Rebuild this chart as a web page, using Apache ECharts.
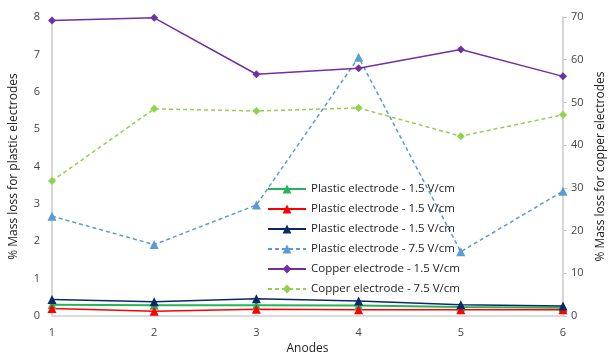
<!DOCTYPE html>
<html><head><meta charset="utf-8">
<script src="https://cdn.jsdelivr.net/npm/echarts@6/dist/echarts.min.js"></script>
<style>html,body{margin:0;padding:0;background:#fff}#c{width:609px;height:356px}</style>
</head><body><div id="c"></div>
<script>
const categories = ['1','2','3','4','5','6'];
const plasticGreen15 = [0.30, 0.29, 0.29, 0.28, 0.24, 0.22];
const plasticRed15 = [0.20, 0.13, 0.18, 0.17, 0.17, 0.17];
const plasticNavy15 = [0.44, 0.38, 0.46, 0.40, 0.30, 0.27];
const plastic75 = [2.67, 1.91, 2.97, 6.92, 1.72, 3.34];
const copper15 = [69.2, 69.8, 56.6, 58.0, 62.4, 56.1];
const copper75 = [31.6, 48.5, 48.0, 48.7, 42.1, 47.1];
const seriesNames = ['Plastic electrode - 1.5 V/cm','Plastic electrode - 1.5 V/cm ','Plastic electrode - 1.5 V/cm  ','Plastic electrode - 7.5 V/cm','Copper electrode - 1.5 V/cm','Copper electrode - 7.5 V/cm'];

const font = 'Open Sans, Liberation Sans, sans-serif';
function mk(name, data, color, symbol, dashed, axis, size, width) {
  return {
    name, type: 'line', data, yAxisIndex: axis, symbol, symbolSize: size,
    itemStyle: {color},
    lineStyle: {color, width: width || 1.5, type: dashed ? [4,3] : 'solid'},
    emphasis: {disabled: true}, animation: false
  };
}
const chart = echarts.init(document.getElementById('c'));
chart.setOption({
  animation: false,
  textStyle: {fontFamily: font},
  grid: {left: 52, right: 46, top: 17, bottom: 40, outerBoundsMode: 'none', containLabel: false},
  legend: {
    orient: 'vertical', left: 262, top: 178, itemGap: 8, itemWidth: 38, itemHeight: 11,
    textStyle: {fontSize: 11.5, color: '#222', fontFamily: font},
    formatter: n => n.trim(),
    data: seriesNames
  },
  xAxis: {
    type: 'category', data: categories, boundaryGap: false,
    name: 'Anodes', nameLocation: 'middle', nameGap: 23,
    nameTextStyle: {fontSize: 12, color: '#222'},
    axisLine: {lineStyle: {color: '#d0d0d0', width: 1.5}},
    axisTick: {show: false},
    axisLabel: {color: '#444', fontSize: 11, margin: 11}
  },
  yAxis: [{
    type: 'value', min: 0, max: 8, interval: 1,
    name: '% Mass loss for plastic electrodes', nameLocation: 'middle', nameGap: 32,
    nameTextStyle: {fontSize: 12, color: '#222'},
    axisLine: {show: true, lineStyle: {color: '#c8c8c8', width: 1.5}},
    axisTick: {show: false},
    splitLine: {show: false},
    axisLabel: {color: '#444', fontSize: 11, margin: 12}
  }, {
    type: 'value', min: 0, max: 70, interval: 10,
    name: '% Mass loss for copper electrodes', nameLocation: 'middle', nameGap: 31, nameRotate: 90,
    nameTextStyle: {fontSize: 12, color: '#222'},
    axisLine: {show: true, lineStyle: {color: '#c8c8c8', width: 1.5}},
    axisTick: {show: true, inside: false, length: 4, lineStyle: {color: '#c8c8c8'}},
    splitLine: {show: false},
    axisLabel: {color: '#444', fontSize: 11, margin: 8}
  }],
  series: [
    mk(seriesNames[0], plasticGreen15, '#27b35a', 'triangle', false, 0, 9, 2),
    mk(seriesNames[1], plasticRed15, '#ff0000', 'triangle', false, 0, 9, 1.5),
    mk(seriesNames[2], plasticNavy15, '#0a2a66', 'triangle', false, 0, 9, 1.5),
    mk(seriesNames[3], plastic75, '#5b9bd5', 'triangle', true, 0, 9, 1.5),
    mk(seriesNames[4], copper15, '#7030a0', 'diamond', false, 1, 8, 1.5),
    mk(seriesNames[5], copper75, '#92d050', 'diamond', true, 1, 8, 1.5)
  ]
});
</script></body></html>
